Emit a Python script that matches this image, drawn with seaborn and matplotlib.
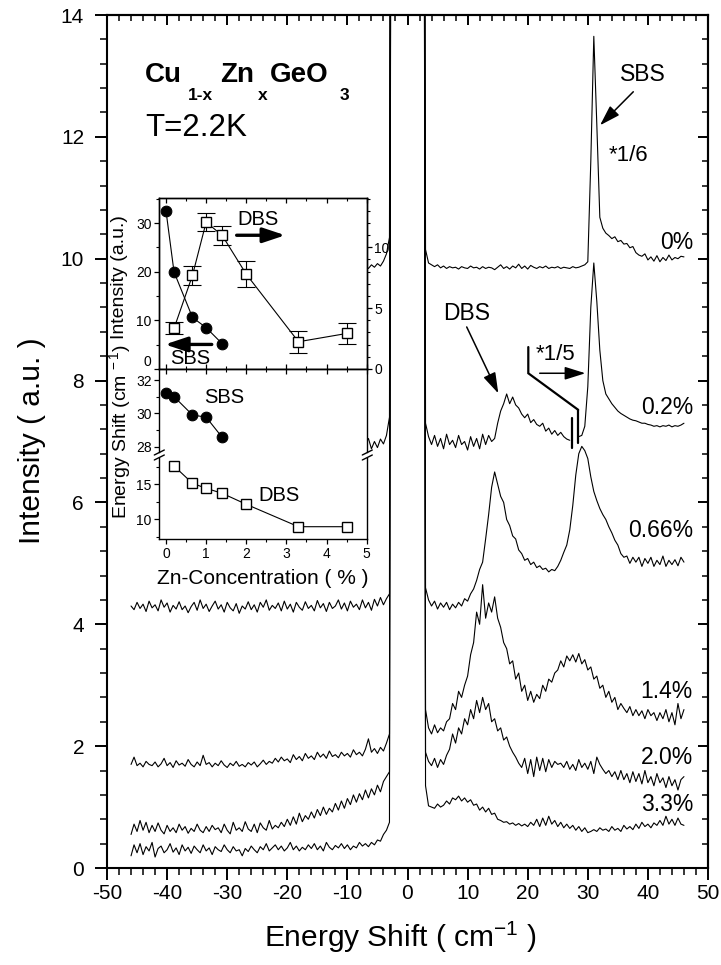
import numpy as np
import matplotlib
matplotlib.use("Agg")
import matplotlib.pyplot as plt
import seaborn as sns
from matplotlib.ticker import MultipleLocator, FixedLocator
from matplotlib.lines import Line2D

# ---------------------------------------------------------------------------
# Raman spectra of Cu(1-x)Zn(x)GeO3 at T = 2.2 K (offset for clarity)
# ---------------------------------------------------------------------------
SHIFT_LEFT = np.arange(-46.0, -2.75, 0.5)    # anti-Stokes side, cm^-1
SHIFT_RIGHT = np.arange(3.0, 46.25, 0.5)     # Stokes side, cm^-1
LASER_EDGE = 2.6                              # edge of the elastic line
LASER_LEVEL = 30.0                            # elastic line, far off scale

CONC_LABELS = ["0%", "0.2%", "0.66%", "1.4%", "2.0%", "3.3%"]

ZERO_LEFT = [9.88, 9.84, 9.9, 9.86, 9.92, 9.88, 9.96, 10.08, 10.35]
ZERO_RIGHT = [
    10.15, 9.93, 9.9, 9.87, 9.9, 9.85, 9.88, 9.84, 9.87, 9.85,
    9.86, 9.83, 9.87, 9.85, 9.84, 9.88, 9.85, 9.86, 9.83, 9.87,
    9.84, 9.86, 9.85, 9.82, 9.86, 9.9, 9.84, 9.87, 9.83, 9.88,
    9.85, 9.91, 9.84, 9.88, 9.83, 9.89, 9.86, 9.84, 9.87, 9.85,
    9.88, 9.84, 9.86, 9.85, 9.87, 9.84, 9.86, 9.85, 9.84, 9.87,
    9.85, 9.86, 9.88, 9.9, 9.95, 11.6, 13.65, 12.2, 10.68, 10.5,
    10.42, 10.38, 10.33, 10.36, 10.28, 10.3, 10.24, 10.25, 10.18, 10.2,
    10.1, 10.06, 10.04, 10.08, 9.98, 10.03, 9.96, 10.05, 9.95, 10.02,
    9.97, 10.06, 9.98, 10.02, 10.0, 10.04, 10.03,
]

P02_LEFT = [6.95, 7.05, 6.88, 7.0, 6.9, 7.04, 6.96, 7.1, 7.4]
P02_RIGHT = [
    7.3, 7.08, 6.95, 7.1, 6.92, 7.05, 6.88, 7.12, 6.95, 7.02,
    6.9, 7.1, 6.95, 7.0, 6.86, 7.08, 6.92, 7.05, 6.88, 7.12,
    6.95, 7.1, 7.0, 7.05, 7.3, 7.5, 7.62, 7.78, 7.62, 7.73,
    7.6, 7.55, 7.45, 7.39, 7.45, 7.31, 7.36, 7.28, 7.25, 7.3,
    7.17, 7.22, 7.12, 7.18, 7.1, 7.15, 7.08, 7.04, 7.02, np.nan,
    np.nan, 7.08, 7.1, 7.25, 7.9, 9.2, 9.93, 9.3, 8.5, 8.0,
    7.78, 7.7, 7.62, 7.56, 7.5, 7.46, 7.43, 7.4, 7.37, 7.35,
    7.34, 7.32, 7.3, 7.3, 7.28, 7.27, 7.25, 7.26, 7.24, 7.26,
    7.25, 7.27, 7.24, 7.26, 7.25, 7.27, 7.3,
]

P066_LEFT = [
    4.3, 4.24, 4.36, 4.26, 4.33, 4.21, 4.38, 4.27, 4.32, 4.22,
    4.4, 4.28, 4.35, 4.2, 4.31, 4.25, 4.37, 4.24, 4.3, 4.19,
    4.29, 4.36, 4.23, 4.4, 4.26, 4.33, 4.21, 4.3, 4.38, 4.25,
    4.32, 4.2, 4.36, 4.27, 4.22, 4.34, 4.18, 4.3, 4.25, 4.37,
    4.24, 4.32, 4.2, 4.36, 4.28, 4.4, 4.23, 4.31, 4.26, 4.35,
    4.22, 4.38, 4.25, 4.33, 4.2, 4.36, 4.28, 4.23, 4.37, 4.26,
    4.31, 4.22, 4.39, 4.27, 4.34, 4.21, 4.36, 4.26, 4.3, 4.4,
    4.25, 4.35, 4.22, 4.38, 4.28, 4.33, 4.24, 4.4, 4.27, 4.36,
    4.23, 4.41, 4.3, 4.44, 4.32, 4.42, 4.5,
]
P066_RIGHT = [
    4.6, 4.4, 4.3, 4.38, 4.25, 4.35, 4.28, 4.36, 4.24, 4.33,
    4.27, 4.36, 4.3, 4.42, 4.38, 4.5, 4.58, 4.72, 4.9, 5.02,
    5.4, 5.8, 6.25, 6.5, 6.3, 6.1, 6.0, 5.72, 5.62, 5.45,
    5.4, 5.22, 5.16, 5.05, 5.08, 4.98, 5.02, 4.93, 4.96, 4.9,
    4.92, 4.86, 4.9, 4.88, 4.95, 5.05, 5.18, 5.3, 5.55, 5.95,
    6.45, 6.8, 6.92, 6.85, 6.72, 6.42, 6.18, 6.03, 5.9, 5.8,
    5.72, 5.6, 5.5, 5.38, 5.3, 5.16, 5.1, 5.12, 5.0, 5.1,
    5.02, 5.1, 4.95, 5.08, 5.0, 5.1, 4.95, 5.05, 4.98, 5.12,
    4.95, 5.05, 4.98, 5.06, 4.96, 5.1, 5.02,
]

P14_LEFT = [
    1.7, 1.82, 1.68, 1.72, 1.66, 1.75, 1.7, 1.68, 1.74, 1.66,
    1.71, 1.8, 1.68, 1.73, 1.65, 1.76, 1.69, 1.72, 1.67, 1.78,
    1.7, 1.66, 1.74, 1.68, 1.85, 1.7, 1.73, 1.66, 1.72, 1.68,
    1.76, 1.69, 1.65, 1.72, 1.68, 1.75, 1.67, 1.7, 1.66, 1.73,
    1.69, 1.74, 1.66, 1.71, 1.77, 1.7, 1.75, 1.72, 1.8, 1.74,
    1.82, 1.76, 1.79, 1.73, 1.86, 1.78, 1.83, 1.76, 1.88, 1.8,
    1.84, 1.78, 1.9, 1.82, 1.87, 1.8, 1.92, 1.83, 1.86, 1.81,
    1.9, 1.84, 1.88, 1.82, 1.94, 1.86, 1.9, 1.84, 1.95, 2.12,
    1.9, 1.96, 1.88, 1.98, 1.92, 2.05, 2.2,
]
P14_RIGHT = [
    2.6, 2.3, 2.2, 2.35, 2.22, 2.3, 2.25, 2.4, 2.45, 2.7,
    2.6, 2.9, 2.8, 3.0, 3.15, 3.5, 3.7, 4.2, 4.0, 4.65,
    4.1, 4.35, 4.2, 4.45, 4.1, 3.95, 3.7, 3.6, 3.35, 3.4,
    3.1, 3.2, 2.9, 3.0, 2.75, 2.9, 2.72, 2.85, 2.78, 3.0,
    2.9, 3.1, 3.05, 3.2, 3.25, 3.4, 3.3, 3.48, 3.4, 3.5,
    3.38, 3.52, 3.35, 3.42, 3.25, 3.3, 3.1, 3.15, 2.95, 3.0,
    2.8, 2.9, 2.72, 2.8, 2.6, 2.7, 2.62, 2.55, 2.65, 2.5,
    2.6, 2.5, 2.58, 2.45, 2.6, 2.5, 2.55, 2.42, 2.55, 2.45,
    2.6, 2.4, 2.55, 2.35, 2.7, 2.45, 2.6,
]

P20_LEFT = [
    0.55, 0.72, 0.6, 0.78, 0.62, 0.75, 0.58, 0.7, 0.6, 0.74,
    0.62, 0.56, 0.7, 0.6, 0.66, 0.58, 0.72, 0.62, 0.68, 0.57,
    0.65, 0.6, 0.72, 0.62, 0.58, 0.68, 0.6, 0.7, 0.63, 0.66,
    0.58, 0.72, 0.62, 0.56, 0.75, 0.62, 0.66, 0.6, 0.76, 0.64,
    0.6, 0.72, 0.58, 0.74, 0.66, 0.62, 0.78, 0.64, 0.7, 0.66,
    0.75, 0.68, 0.8, 0.7, 0.84, 0.72, 0.9, 0.76, 0.86, 0.8,
    0.92, 0.82, 0.96, 0.86, 1.0, 0.88, 0.98, 0.92, 1.06, 0.95,
    1.1, 0.98, 1.14, 1.04, 1.2, 1.08, 1.22, 1.12, 1.28, 1.15,
    1.3, 1.2, 1.36, 1.25, 1.42, 1.5, 1.58,
]
P20_RIGHT = [
    1.9, 1.75, 1.68, 1.8, 1.65, 1.78, 1.7, 1.85, 1.95, 2.2,
    2.05, 2.3, 2.2, 2.45, 2.35, 2.6, 2.45, 2.75, 2.55, 2.8,
    2.6, 2.7, 2.4, 2.45, 2.25, 2.3, 2.1, 2.15, 2.0, 1.9,
    1.82, 1.72, 1.65, 1.8, 1.55, 1.78, 1.5, 1.82, 1.6, 1.8,
    1.58, 1.78, 1.65, 1.75, 1.7, 1.72, 1.65, 1.75, 1.62, 1.7,
    1.6, 1.78, 1.65, 1.72, 1.62, 1.75, 1.55, 1.82, 1.7, 1.62,
    1.55, 1.6, 1.5, 1.58, 1.45, 1.6, 1.45, 1.55, 1.4, 1.58,
    1.42, 1.55, 1.38, 1.6, 1.4, 1.5, 1.35, 1.55, 1.4, 1.48,
    1.32, 1.5, 1.35, 1.45, 1.28, 1.45, 1.5,
]

P33_LEFT = [
    0.2, 0.38, 0.25, 0.4, 0.22, 0.35, 0.28, 0.42, 0.18, 0.32,
    0.36, 0.25, 0.3, 0.4, 0.26, 0.33, 0.22, 0.38, 0.28, 0.34,
    0.24, 0.36, 0.3, 0.25, 0.38, 0.28, 0.33, 0.22, 0.35, 0.3,
    0.27, 0.38, 0.3, 0.25, 0.35, 0.28, 0.3, 0.2, 0.32, 0.27,
    0.36, 0.3, 0.25, 0.35, 0.3, 0.4, 0.28, 0.33, 0.38, 0.3,
    0.36, 0.28, 0.33, 0.42, 0.3, 0.36, 0.28, 0.34, 0.3, 0.38,
    0.32, 0.4, 0.3, 0.36, 0.28, 0.42, 0.34, 0.3, 0.37, 0.33,
    0.4, 0.32, 0.38, 0.3, 0.36, 0.33, 0.42, 0.36, 0.4, 0.35,
    0.42, 0.38, 0.46, 0.44, 0.55, 0.62, 0.75,
]
P33_RIGHT = [
    1.35, 1.02, 1.0, 0.98, 1.05, 1.0, 1.03, 1.1, 1.05, 1.15,
    1.12, 1.18, 1.1, 1.15, 1.08, 1.12, 1.03, 1.05, 0.95, 1.0,
    0.92, 0.98, 0.88, 0.9, 0.8, 0.78, 0.75, 0.76, 0.72, 0.74,
    0.7, 0.73, 0.69, 0.72, 0.68, 0.75, 0.7, 0.8, 0.68, 0.82,
    0.7, 0.85, 0.72, 0.78, 0.68, 0.75, 0.66, 0.72, 0.65, 0.7,
    0.62, 0.68, 0.6, 0.66, 0.58, 0.6, 0.63, 0.6, 0.66, 0.62,
    0.64, 0.6, 0.68, 0.62, 0.65, 0.6, 0.7, 0.64, 0.68, 0.63,
    0.72, 0.65, 0.75, 0.68, 0.72, 0.66, 0.74, 0.7, 0.78, 0.7,
    0.85, 0.72, 0.8, 0.7, 0.82, 0.72, 0.7,
]

# ---------------------------------------------------------------------------
# Inset: intensities and energies of the singlet (SBS) and dopant (DBS)
# bound states versus Zn concentration
# ---------------------------------------------------------------------------
ZN_SBS = [0.0, 0.2, 0.66, 1.0, 1.4]
SBS_INTENSITY = [32.5, 19.95, 10.6, 8.5, 5.2]
SBS_SHIFT = [31.24, 31.0, 29.9, 29.77, 28.56]

ZN_DBS = [0.2, 0.66, 1.0, 1.4, 2.0, 3.3, 4.5]
DBS_INTENSITY = [3.34, 7.7, 12.07, 10.98, 7.79, 2.24, 2.92]
DBS_INTENSITY_ERR = [0.5, 0.8, 0.75, 0.8, 1.05, 0.9, 0.9]
DBS_SHIFT = [17.57, 15.1, 14.39, 13.67, 12.1, 8.9, 8.9]

# ---------------------------------------------------------------------------
sns.set_theme(style="ticks")
plt.rcParams["font.family"] = ["Liberation Sans", "DejaVu Sans"]
plt.rcParams["mathtext.default"] = "regular"
plt.rcParams["axes.unicode_minus"] = False
plt.rcParams["axes.edgecolor"] = "black"
plt.rcParams["xtick.color"] = "black"
plt.rcParams["ytick.color"] = "black"
plt.rcParams["text.color"] = "black"

W_PX, H_PX = 721, 965
fig = plt.figure(figsize=(W_PX / 100, H_PX / 100), dpi=100, facecolor="white")


def fx(px):
    return px / W_PX


def fy(py):
    return 1 - py / H_PX


ax = fig.add_axes([fx(107), fy(868), fx(708) - fx(107), fy(15) - fy(868)])
ax.set_facecolor("white")

LW = 0.8
traces = [
    (ZERO_LEFT, ZERO_RIGHT),
    (P02_LEFT, P02_RIGHT),
    (P066_LEFT, P066_RIGHT),
    (P14_LEFT, P14_RIGHT),
    (P20_LEFT, P20_RIGHT),
    (P33_LEFT, P33_RIGHT),
]
for left, right in traces:
    xs = np.concatenate([SHIFT_LEFT[-len(left):], [-LASER_EDGE, LASER_EDGE], SHIFT_RIGHT])
    ys = np.concatenate([left, [LASER_LEVEL, LASER_LEVEL], right])
    gap = np.isnan(ys)
    seg = np.cumsum(gap)
    for sid in np.unique(seg[~gap]):
        m = (seg == sid) & ~gap
        sns.lineplot(x=xs[m], y=ys[m], ax=ax, color="black", lw=LW,
                     sort=False, estimator=None, errorbar=None)

ax.set_xlim(-50, 50)
ax.set_ylim(0, 14)
ax.set_xlabel("")
ax.set_ylabel("")
ax.xaxis.set_major_locator(MultipleLocator(10))
ax.xaxis.set_minor_locator(MultipleLocator(2))
ax.yaxis.set_major_locator(MultipleLocator(2))
ax.yaxis.set_minor_locator(MultipleLocator(0.4))
ax.tick_params(which="major", direction="out", length=8.5, width=1.4,
               labelsize=15, top=False, right=False)
ax.tick_params(which="minor", direction="out", length=5, width=1.1,
               top=False, right=False)
ax.tick_params(axis="x", which="major", pad=3)
ax.tick_params(axis="y", which="major", pad=8)
for s in ax.spines.values():
    s.set_linewidth(1.5)
    s.set_visible(True)

# mirrored ticks on the top and right, pointing inwards
sec_top = ax.secondary_xaxis("top")
sec_top.xaxis.set_major_locator(MultipleLocator(10))
sec_top.xaxis.set_minor_locator(MultipleLocator(2))
sec_top.tick_params(which="major", direction="in", length=7.5, width=1.4, labeltop=False)
sec_top.tick_params(which="minor", direction="in", length=4, width=1.1)
sec_top.spines["top"].set_linewidth(1.5)
sec_right = ax.secondary_yaxis("right")
sec_right.yaxis.set_major_locator(MultipleLocator(2))
sec_right.yaxis.set_minor_locator(MultipleLocator(0.4))
sec_right.tick_params(which="major", direction="in", length=7.5, width=1.4, labelright=False)
sec_right.tick_params(which="minor", direction="in", length=4, width=1.1)
sec_right.spines["right"].set_linewidth(1.5)

fig.text(fx(32), fy(441), "Intensity ( a.u. )", rotation=90,
         ha="center", va="center", fontsize=21.5)
fig.text(fx(400), fy(937), "Energy Shift ( cm$^{-1}$ )",
         ha="center", va="center", fontsize=21.5)

# composition (chemical formula set piece by piece) and temperature
formula = [("Cu", -43.68, 12.905, 20), ("1-x", -36.52, 12.605, 12.5),
           ("Zn", -31.2, 12.905, 20), ("x", -24.87, 12.605, 12.5),
           ("GeO", -22.88, 12.905, 20), ("3", -11.23, 12.605, 12.5)]
for txt, x0, y0, size in formula:
    ax.text(x0, y0, txt, fontsize=size, fontweight="bold", ha="left", va="baseline")
ax.text(-43.68, 12.02, "T=2.2K", fontsize=22.5, ha="left", va="baseline")

# concentration labels on the right
label_y = {"0%": 10.27, "0.2%": 7.56, "0.66%": 5.54,
           "1.4%": 2.89, "2.0%": 1.82, "3.3%": 1.05}
for lab in CONC_LABELS:
    ax.text(47.5, label_y[lab], lab, ha="right", va="center", fontsize=16.5)

thin_arrow = dict(arrowstyle="-|>,head_length=0.7,head_width=0.22",
                  color="black", lw=1.1, mutation_scale=18,
                  shrinkA=0, shrinkB=0)
ax.text(39.24, 13.03, "SBS", ha="center", va="center", fontsize=16.5)
ax.annotate("", xy=(32.03, 12.19), xytext=(37.57, 12.74), arrowprops=thin_arrow)
ax.text(36.7, 11.69, "*1/6", ha="center", va="center", fontsize=16)

ax.text(9.9, 9.1, "DBS", ha="center", va="center", fontsize=16.5)
ax.annotate("", xy=(15.11, 7.79), xytext=(9.85, 8.88), arrowprops=thin_arrow)

# scale change marker on the 0.2% spectrum
ax.text(24.6, 8.42, "*1/5", ha="center", va="center", fontsize=16)
ax.annotate("", xy=(29.6, 8.12), xytext=(22.0, 8.12), arrowprops=thin_arrow)
ax.plot([20.1, 20.1, 28.4], [8.55, 8.12, 7.52], color="black", lw=1.6,
        solid_joinstyle="miter")
ax.plot([27.3, 27.3], [6.9, 7.38], color="black", lw=1.6)
ax.plot([28.4, 28.4], [6.97, 7.52], color="black", lw=1.6)

# ---------------------------------------------------------------------------
# inset
# ---------------------------------------------------------------------------
IL, IR = 159.3, 367.3
XLIM_IN = (-0.167, 5.015)
ax_top = fig.add_axes([fx(IL), fy(369), fx(IR) - fx(IL), fy(198.3) - fy(369)])
ax_mid = fig.add_axes([fx(IL), fy(452.5), fx(IR) - fx(IL), fy(369) - fy(452.5)])
ax_bot = fig.add_axes([fx(IL), fy(539.3), fx(IR) - fx(IL), fy(457.5) - fy(539.3)])
ax_top2 = ax_top.twinx()

sns.lineplot(x=ZN_SBS, y=SBS_INTENSITY, ax=ax_top, color="black", lw=LW,
             marker="o", markersize=7.7, markerfacecolor="black",
             markeredgecolor="black", sort=False, estimator=None, errorbar=None)
ax_top2.errorbar(ZN_DBS, DBS_INTENSITY, yerr=DBS_INTENSITY_ERR, fmt="none",
                 ecolor="black", elinewidth=0.8, capsize=6.5, capthick=0.8)
sns.lineplot(x=ZN_DBS, y=DBS_INTENSITY, ax=ax_top2, color="black", lw=LW,
             marker="s", markersize=7.2, markerfacecolor="white",
             markeredgecolor="black", markeredgewidth=1.0,
             sort=False, estimator=None, errorbar=None)
sns.lineplot(x=ZN_SBS, y=SBS_SHIFT, ax=ax_mid, color="black", lw=LW,
             marker="o", markersize=7.7, markerfacecolor="black",
             markeredgecolor="black", sort=False, estimator=None, errorbar=None)
sns.lineplot(x=ZN_DBS, y=DBS_SHIFT, ax=ax_bot, color="black", lw=LW,
             marker="s", markersize=7.2, markerfacecolor="white",
             markeredgecolor="black", markeredgewidth=1.0,
             sort=False, estimator=None, errorbar=None)

for a in (ax_top, ax_mid, ax_bot, ax_top2):
    a.set_xlim(*XLIM_IN)
    a.set_xlabel("")
    a.set_ylabel("")
    a.xaxis.set_major_locator(MultipleLocator(1))
    a.xaxis.set_minor_locator(MultipleLocator(0.5))
    for s in a.spines.values():
        s.set_linewidth(1.0)
for a in (ax_top, ax_mid, ax_bot):
    a.set_facecolor("white")

ax_top.set_ylim(0, 35.1)
ax_top2.set_ylim(0, 14.03)
ax_mid.set_ylim(27.65, 32.66)
ax_bot.set_ylim(7.1, 18.79)

ax_top.yaxis.set_major_locator(FixedLocator([0, 10, 20, 30]))
ax_top.yaxis.set_minor_locator(FixedLocator([5, 15, 25, 35]))
ax_top2.yaxis.set_major_locator(MultipleLocator(5))
ax_top2.yaxis.set_minor_locator(MultipleLocator(1))
ax_mid.yaxis.set_major_locator(FixedLocator([28, 30, 32]))
ax_mid.yaxis.set_minor_locator(FixedLocator([29, 31]))
ax_bot.yaxis.set_major_locator(FixedLocator([10, 15]))
ax_bot.yaxis.set_minor_locator(FixedLocator([7.5, 12.5, 17.5]))

TS = 10
ax_top.tick_params(axis="x", which="both", direction="in", top=True, bottom=True,
                   labelbottom=False, labeltop=False)
ax_mid.tick_params(axis="x", which="both", direction="in", top=True, bottom=False,
                   labelbottom=False)
ax_bot.tick_params(axis="x", which="both", direction="out", top=False, bottom=True,
                   labelsize=TS, pad=2)
for a in (ax_top, ax_mid, ax_bot):
    a.tick_params(axis="y", which="both", direction="out", left=True, right=False,
                  labelsize=TS, pad=2)
ax_top2.tick_params(axis="y", which="both", direction="out", right=True, left=False,
                    labelsize=TS, pad=1.5)
ax_top2.tick_params(axis="x", which="both", top=False, bottom=False)
for a in (ax_top, ax_mid, ax_bot, ax_top2):
    a.tick_params(which="major", length=3.5, width=0.9)
    a.tick_params(which="minor", length=2, width=0.8)
ax_mid.spines["bottom"].set_visible(False)
ax_bot.spines["top"].set_visible(False)
# the zero of the upper panel sits just above the 32 of the panel below
ax_top.yaxis.get_major_ticks()[0].label1.set_verticalalignment("bottom")

# broken-axis marks
for xc in (IL, IR):
    for yc in (452.5, 457.5):
        fig.add_artist(Line2D([fx(xc - 5), fx(xc + 5)], [fy(yc + 2.5), fy(yc - 2.5)],
                              transform=fig.transFigure, color="black", lw=1.0))

bold_arrow = dict(arrowstyle="-|>,head_length=0.75,head_width=0.25",
                  color="black", lw=2.4, mutation_scale=18,
                  shrinkA=0, shrinkB=0)
ax_top.text(2.29, 30.8, "DBS", ha="center", va="center", fontsize=14.5)
ax_top.annotate("", xy=(2.97, 27.5), xytext=(1.76, 27.5), arrowprops=bold_arrow)
ax_top.text(0.615, 2.1, "SBS", ha="center", va="center", fontsize=14.5)
ax_top.annotate("", xy=(-0.025, 5.05), xytext=(1.14, 5.05), arrowprops=bold_arrow)
ax_mid.text(1.445, 30.96, "SBS", ha="center", va="center", fontsize=14.5)
ax_bot.text(2.82, 13.43, "DBS", ha="center", va="center", fontsize=14.5)

fig.text(fx(120), fy(277), "Intensity (a.u.)", rotation=90,
         ha="center", va="center", fontsize=14)
fig.text(fx(120), fy(431), "Energy Shift (cm$^{\\,-1}$)", rotation=90,
         ha="center", va="center", fontsize=14)
fig.text(fx(263), fy(578), "Zn-Concentration ( % )",
         ha="center", va="center", fontsize=15)

fig.savefig("out.png", dpi=100, facecolor="white")
